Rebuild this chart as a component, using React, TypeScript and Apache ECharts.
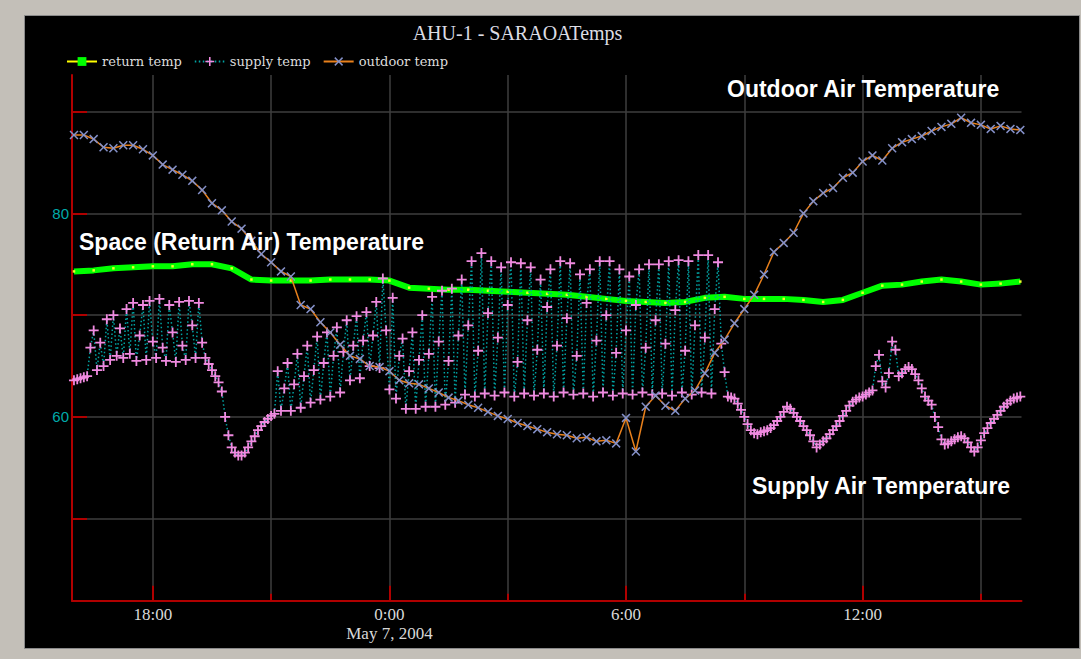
import React, { useEffect, useRef } from "react";
import * as echarts from "echarts";

const chartTitle = "AHU-1 - SARAOATemps";
const seriesNames = ["return temp", "supply temp", "outdoor temp"];
const annotations = ["Outdoor Air Temperature", "Space (Return Air) Temperature", "Supply Air Temperature"];

// x axis in hours since May 6, 2004 00:00
const xMin = 15.95;
const xMax = 40.03;
const xMajorTicks = [18, 24, 30, 36];
const xMinorTicks = [21, 27, 33, 39];
const xTickLabels: Record<number, string> = { 18: "18:00", 24: "0:00\nMay 7, 2004", 30: "6:00", 36: "12:00" };
const yMin = 41.94;
const yMax = 93.6;
const yTicks = [50, 60, 70, 80, 90];
const yLabels = [60, 80];

const startHour = 16;
const returnStepHours = 0.5;
const returnTemps = [
  74.3, 74.4, 74.6, 74.7, 74.8, 74.8, 75.0, 75.0, 74.6, 73.5, 73.4, 73.4, 73.4, 73.5, 73.5, 73.5,
  73.4, 72.7, 72.6, 72.5, 72.5, 72.4, 72.3, 72.2, 72.1, 72.0, 71.8, 71.6, 71.4, 71.3, 71.2, 71.3,
  71.7, 71.8, 71.6, 71.6, 71.6, 71.5, 71.3, 71.5, 72.2, 72.9, 73.0, 73.3, 73.5, 73.3, 73.0, 73.1, 73.3,
];

const outdoorStepHours = 0.25;
const outdoorTemps = [
  87.7, 87.7, 87.3, 86.5, 86.4, 86.7, 86.7, 86.3, 85.7, 84.8, 84.3, 83.8, 83.2, 82.3, 81.0, 80.3,
  79.2, 78.5, 77.3, 76.0, 75.2, 74.3, 73.8, 71.0, 70.6, 69.3, 68.3, 67.1, 66.0, 65.7, 65.0, 64.9,
  64.5, 63.6, 63.3, 63.2, 62.8, 62.4, 61.9, 61.6, 61.2, 60.9, 60.5, 60.1, 59.8, 59.4, 59.1, 58.8,
  58.5, 58.3, 58.2, 57.9, 58.0, 57.6, 57.7, 57.4, 59.9, 56.6, 61.0, 62.1, 61.1, 60.6, 61.8, 62.6,
  64.3, 66.3, 67.6, 69.2, 70.6, 72.0, 74.0, 76.2, 77.1, 78.1, 80.0, 81.2, 82.0, 82.5, 83.5, 84.0,
  85.1, 85.7, 85.2, 86.4, 87.0, 87.3, 87.6, 88.1, 88.5, 88.8, 89.4, 88.9, 88.7, 88.3, 88.6, 88.3, 88.2,
];

const supplyStepHours = 5 / 60;
const supplyTemps = [
  // 16:00
  63.6, 63.7, 63.8, 63.9, 64.0,
  // 16:25 cycling
  66.8, 68.5, 64.6, 67.3, 65.0, 69.6, 65.6, 70.0, 66.0, 68.7, 65.8, 70.6, 66.2, 71.2, 65.5, 68.0,
  71.0, 65.6, 71.4, 67.4, 65.8, 71.6, 66.8, 65.5, 71.0, 68.3, 65.4, 71.3, 67.0, 65.6, 71.4, 69.0,
  65.8, 71.2, 67.3,
  // 19:20
  65.8, 65.2, 64.6, 64.0, 63.4, 62.5, 60.0, 58.2, 57.0, 56.5, 56.2, 56.2, 56.5, 57.0, 57.6, 58.1,
  58.7, 59.1, 59.5, 59.8, 60.1, 60.3,
  // 21:10 cycling
  64.5, 60.6, 62.8, 65.3, 60.6, 63.2, 66.2, 60.9, 64.0, 67.0, 61.4, 64.6, 67.9, 61.7, 65.3, 68.3,
  62.0, 66.0, 68.8, 62.4, 66.4, 69.5, 63.6, 67.0, 69.9, 63.8, 67.5, 70.3, 65.0, 68.0, 71.3,
  64.8, 73.6, 68.5, 62.7, 71.7, 61.8, 66.0, 67.7, 60.8, 64.5, 68.3, 60.8, 65.6, 70.0, 61.0, 66.2,
  71.8, 61.0, 67.4, 72.4, 61.2, 65.5, 72.6, 61.4, 68.0, 73.5,
  62.2, 69.0, 75.3, 62.0, 66.5, 76.1, 62.3, 70.2, 75.3, 62.1, 67.8, 74.7, 62.4, 71.0, 75.2, 62.0,
  65.4, 75.1, 62.3, 69.5, 74.7, 62.1, 66.6, 73.5, 62.3, 70.8, 74.5, 62.0, 67.0, 75.3, 62.4, 69.7,
  75.1, 62.2, 66.0, 74.0, 62.3, 71.2, 74.5, 62.0, 67.5, 75.3, 62.4, 70.0, 75.3, 62.1, 66.3, 74.5,
  62.3, 68.5, 73.8, 62.2, 71.0, 74.5, 62.4, 66.8, 75.0, 62.2, 69.5, 75.0, 62.3, 67.2, 75.3, 62.1,
  70.5, 75.4, 62.4, 66.5, 75.3, 62.2, 69.0, 75.9, 62.4, 67.8, 75.9, 62.3, 70.6, 75.2, 67.2, 64.4,
  // 8:35
  62.0, 61.9, 61.8, 61.3, 60.7, 60.0, 59.3, 58.7, 58.4, 58.3,
  58.5, 58.6, 58.7, 58.9, 59.2, 59.6, 60.0, 60.5, 61.0, 60.8,
  60.4, 60.0, 59.6, 59.1, 58.7, 58.2, 57.6, 57.0, 57.3, 57.6,
  57.9, 58.3, 58.7, 59.1, 59.6, 60.1, 60.6, 61.1, 61.5, 61.7,
  61.9, 62.0, 62.2, 62.4, 62.6, 65.0, 66.1, 63.5, 62.9, 64.3,
  67.4, 66.6, 64.0, 64.3, 64.7, 64.9, 64.7, 64.2, 63.6, 62.8,
  62.0, 61.6, 61.2, 60.0, 59.0, 57.8, 57.3, 57.4, 57.6, 57.8,
  58.0, 58.1, 57.9, 57.5, 57.0, 56.6, 57.0, 57.7, 58.4, 58.9,
  59.4, 59.8, 60.2, 60.6, 61.0, 61.3, 61.6, 61.8, 61.9, 62.0,
];

const toPairs = (vals: number[], step: number) => vals.map((v, i) => [startHour + i * step, v]);

const plusPath = "path://M4.1,0H5.9V4.1H10V5.9H5.9V10H4.1V5.9H0V4.1H4.1Z";
const crossPath = "path://M0,1.2L1.2,0L5,3.8L8.8,0L10,1.2L6.2,5L10,8.8L8.8,10L5,6.2L1.2,10L0,8.8L3.8,5Z";

const RED = "#b00000";
const GRID = "#3e3e3e";

export default function App() {
  const ref = useRef<HTMLDivElement>(null);
  useEffect(() => {
    const chart = echarts.init(ref.current!, undefined, { renderer: "svg" });
    const gridBox = { left: 72, right: 59.5, top: 75, bottom: 58.3 };
    const annoStyle = { fill: "#ffffff", fontSize: 23, fontWeight: "bold", fontFamily: "Liberation Sans, Arial", align: "left", verticalAlign: "middle" };
    const option: any = {
      animation: false,
      backgroundColor: "#c3bfb8",
      graphic: {
        elements: [
          { type: "rect", z: -100, shape: { x: 24.5, y: 15.5, width: 1055, height: 633 }, style: { fill: "#000000", stroke: "#8a8a8a", lineWidth: 1 } },
          { type: "text", z: 100, x: 517.5, y: 33, style: { text: chartTitle, fill: "#dcdce4", fontSize: 20, fontFamily: "Liberation Serif", align: "center", verticalAlign: "middle" } },
          { type: "text", z: 100, x: 727, y: 88.5, style: { ...annoStyle, text: annotations[0] } },
          { type: "text", z: 100, x: 79, y: 241.5, style: { ...annoStyle, text: annotations[1] } },
          { type: "text", z: 100, x: 752, y: 486, style: { ...annoStyle, text: annotations[2] } },
        ],
      },
      grid: [{ ...gridBox }, { ...gridBox }],
      legend: {
        left: 66,
        top: 55,
        padding: 0,
        itemWidth: 30,
        itemHeight: 11,
        itemGap: 12,
        textStyle: { color: "#dcdcdc", fontFamily: "DejaVu Serif", fontSize: 13 },
        data: [
          { name: seriesNames[0], itemStyle: { color: "#00ff00" }, lineStyle: { color: "#ffff00", width: 2, type: "solid" } },
          { name: seriesNames[1] },
          { name: seriesNames[2] },
        ],
      },
      xAxis: [
        {
          type: "value", gridIndex: 0, min: xMin, max: xMax,
          axisLine: { show: true, onZero: false, lineStyle: { color: RED, width: 2 } },
          axisTick: { show: true, inside: true, length: 15, customValues: xMajorTicks, lineStyle: { color: RED, width: 2 } },
          axisLabel: {
            show: true, customValues: xMajorTicks, margin: 4,
            formatter: (v: number) => xTickLabels[Math.round(v)] ?? "",
            color: "#d8d8d8", fontFamily: "Liberation Serif", fontSize: 17, lineHeight: 19,
          },
          splitLine: { show: true, lineStyle: { color: GRID, width: 1.5 } },
        },
        {
          type: "value", gridIndex: 1, min: xMin, max: xMax,
          axisLine: { show: false },
          axisTick: { show: true, inside: true, length: 7, customValues: xMinorTicks, lineStyle: { color: RED, width: 2 } },
          axisLabel: { show: false },
          splitLine: { show: true, lineStyle: { color: GRID, width: 1.5 } },
        },
      ],
      yAxis: [
        {
          type: "value", gridIndex: 0, min: yMin, max: yMax,
          axisLine: { show: true, onZero: false, lineStyle: { color: RED, width: 2 } },
          axisTick: { show: true, inside: true, length: 15, customValues: yTicks, lineStyle: { color: RED, width: 2 } },
          axisLabel: { show: true, customValues: yLabels, margin: 3, color: "#00aaaa", fontFamily: "Liberation Sans", fontSize: 15 },
          splitLine: { show: true, lineStyle: { color: GRID, width: 1.5 } },
        },
        { type: "value", gridIndex: 1, min: yMin, max: yMax, show: false, splitLine: { show: false } },
      ],
      series: [
        {
          name: seriesNames[0], type: "line", xAxisIndex: 0, yAxisIndex: 0, z: 2,
          data: toPairs(returnTemps, returnStepHours),
          symbol: "rect", symbolSize: 2.5, showSymbol: true,
          itemStyle: { color: "#eaff2a" },
          lineStyle: { color: "#00ff00", width: 6 },
        },
        {
          name: seriesNames[1], type: "line", xAxisIndex: 0, yAxisIndex: 0, z: 3,
          data: toPairs(supplyTemps, supplyStepHours),
          symbol: plusPath, symbolSize: 10, showSymbol: true,
          itemStyle: { color: "#f08ae0" },
          lineStyle: { color: "#00a4a4", width: 1.5, type: [1.5, 2.5] },
        },
        {
          name: seriesNames[2], type: "line", xAxisIndex: 0, yAxisIndex: 0, z: 4,
          data: toPairs(outdoorTemps, outdoorStepHours),
          symbol: crossPath, symbolSize: 9, showSymbol: true,
          itemStyle: { color: "#8490c8" },
          lineStyle: { color: "#e8801c", width: 1.5 },
        },
      ],
    };
    chart.setOption(option);
    return () => chart.dispose();
  }, []);
  return <div ref={ref} style={{ position: "fixed", left: 0, top: 0, width: 1081, height: 659 }} />;
}
